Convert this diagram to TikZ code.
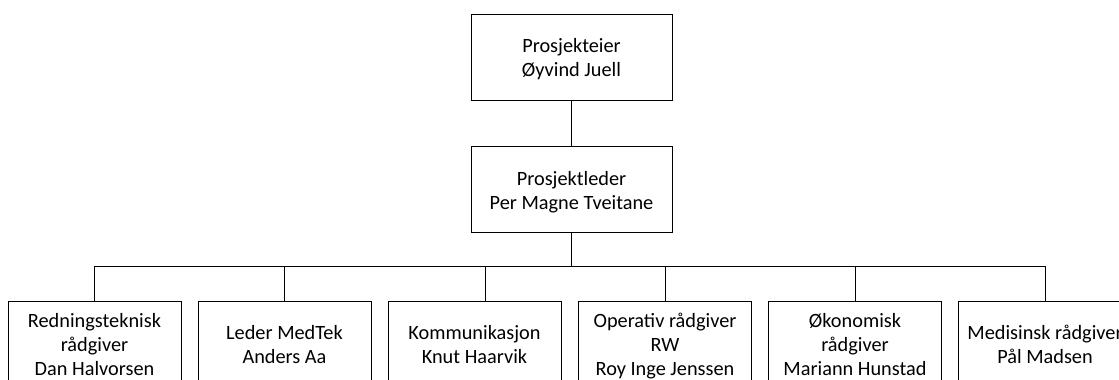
\documentclass[tikz,border=0pt]{standalone}
\usepackage{fontspec}
\setmainfont{Carlito}
\usepackage{tikz}
\usetikzlibrary{positioning}

\newcommand{\lstrut}{\rule[-4.6pt]{0pt}{24.3pt}}

\begin{document}
\begin{tikzpicture}[x=1pt, y=1pt, line width=0.9pt,
        boks/.style={draw, align=center, inner sep=0pt,
            minimum height=86pt,
            font=\fontsize{20.3pt}{24.3pt}\selectfont},
        toppboks/.style={boks, minimum width=201pt},
        radgiver/.style={boks, minimum width=173pt}]
        \useasboundingbox (0, 0) rectangle (1119, 380);
        \clip (0, 0) rectangle (1119, 380);

        % 上层
        \node[toppboks] (eier) at (571.5, 323) {\lstrut Prosjekteier\\Øyvind Juell\lstrut};
        \node[toppboks, below=46pt of eier] (leder) {\lstrut Prosjektleder\\Per Magne Tveitane\lstrut};

        % 下层
        \node[radgiver] (r1) at (94.5, 36) {\lstrut Redningsteknisk\\rådgiver\\Dan Halvorsen\lstrut};
        \node[radgiver] (r2) at (284.5, 36) {\lstrut Leder MedTek\\Anders Aa\lstrut};
        \node[radgiver] (r3) at (474.5, 36) {\lstrut Kommunikasjon\\Knut Haarvik\lstrut};
        \node[radgiver] (r4) at (665, 36) {\lstrut Operativ rådgiver\\RW\\Roy Inge Jenssen\lstrut};
        \node[radgiver] (r5) at (855, 36) {\lstrut Økonomisk\\rådgiver\\Mariann Hunstad\lstrut};
        \node[radgiver] (r6) at (1045, 36) {\lstrut Medisinsk rådgiver\\Pål Madsen\lstrut};

        % 连线
        \coordinate (hub) at (571.5, 114);
        \coordinate (r3inn) at (485, 79); % 偏离中心
        \draw (eier) -- (leder);
        \draw (leder.south) -- (hub);
        \foreach \n in {r1, r2, r4, r5, r6}
            \draw (hub) -| (\n.north);
        \draw (hub) -| (r3inn);
    \end{tikzpicture}
\end{document}
